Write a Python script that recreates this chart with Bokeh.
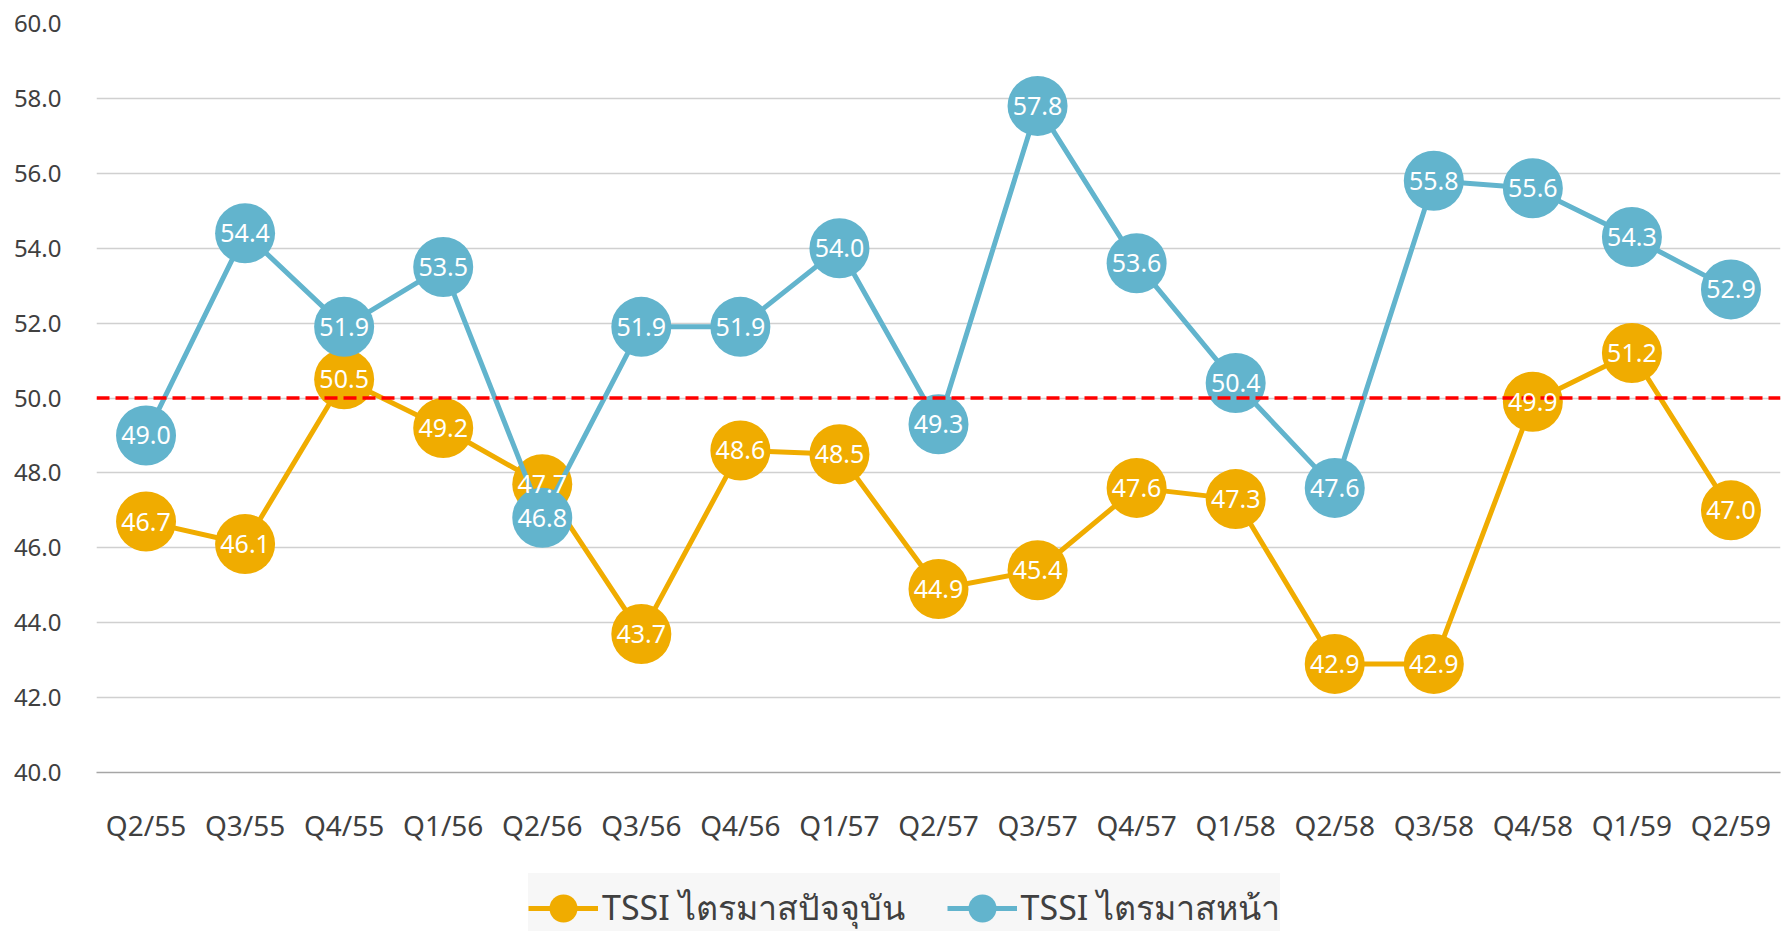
from bokeh.plotting import figure
from bokeh.layouts import column
from bokeh.models import (ColumnDataSource, Range1d, FactorRange, Legend, LegendItem, Span,
                          LabelSet, CustomJSTickFormatter)
from bokeh.core.properties import value
from bokeh.embed import file_html
from bokeh.resources import INLINE

categories = ["Q2/55", "Q3/55", "Q4/55", "Q1/56", "Q2/56", "Q3/56", "Q4/56", "Q1/57", "Q2/57",
              "Q3/57", "Q4/57", "Q1/58", "Q2/58", "Q3/58", "Q4/58", "Q1/59", "Q2/59"]
tssi_current = [46.7, 46.1, 50.5, 49.2, 47.7, 43.7, 48.6, 48.5, 44.9, 45.4, 47.6, 47.3, 42.9, 42.9, 49.9, 51.2, 47.0]
tssi_next = [49.0, 54.4, 51.9, 53.5, 46.8, 51.9, 51.9, 54.0, 49.3, 57.8, 53.6, 50.4, 47.6, 55.8, 55.6, 54.3, 52.9]
series_names = ["TSSI ไตรมาสปัจจุบัน", "TSSI ไตรมาสหน้า"]
threshold = 50.0
y_ticks = [40, 42, 44, 46, 48, 50, 52, 54, 56, 58, 60]

YELLOW = "#F0AC00"
BLUE = "#62B4CD"
FONT = "Noto Sans"

src_cur = ColumnDataSource(dict(x=categories, y=tssi_current, t=[f"{v:.1f}" for v in tssi_current]))
src_next = ColumnDataSource(dict(x=categories, y=tssi_next, t=[f"{v:.1f}" for v in tssi_next]))

x_range = FactorRange(*categories, range_padding=0)
y_range = Range1d(40, 60)

p = figure(frame_width=1684, frame_height=749, x_range=x_range,
           y_range=y_range, output_backend="svg", toolbar_location=None,
           min_border_left=96, min_border_right=5, min_border_top=23, min_border_bottom=97)
p.outline_line_color = None
p.background_fill_color = "white"
p.border_fill_color = "white"

# axes
p.yaxis.ticker = y_ticks
p.yaxis.formatter = CustomJSTickFormatter(code="return tick.toFixed(1);")
p.yaxis.axis_line_color = None
p.yaxis.major_tick_line_color = None
p.yaxis.minor_tick_line_color = None
p.yaxis.major_label_text_font = FONT
p.yaxis.major_label_text_font_size = "24px"
p.yaxis.major_label_text_color = "#404040"
p.yaxis.major_label_standoff = 29

p.xaxis.axis_line_color = "#a6a6a6"
p.xaxis.axis_line_width = 1.5
p.xaxis.major_tick_line_color = None
p.xaxis.major_label_text_font = FONT
p.xaxis.major_label_text_font_size = "28px"
p.xaxis.major_label_text_color = "#404040"
p.xaxis.major_label_standoff = 27

p.xgrid.grid_line_color = None
p.ygrid.grid_line_color = "#d0d0d0"
p.ygrid.grid_line_width = 1.5

# series
l1 = p.line("x", "y", source=src_cur, line_color=YELLOW, line_width=5)
span = Span(location=threshold, dimension="width", line_color="#FF0000", line_width=3.5, line_dash="13 6")
p.add_layout(span)
m1 = p.scatter("x", "y", source=src_cur, size=60, fill_color=YELLOW, line_color=None)
l2 = p.line("x", "y", source=src_next, line_color=BLUE, line_width=5)
m2 = p.scatter("x", "y", source=src_next, size=60, fill_color=BLUE, line_color=None)

for s in (src_cur, src_next):
    p.add_layout(LabelSet(x="x", y="y", text="t", source=s, text_color="white", text_font=value(FONT),
                          text_font_size="25px", text_align="center", text_baseline="middle"))

# legend strip below the chart (same horizontal borders as the chart)
pl = figure(frame_width=1684, frame_height=62, x_range=x_range, y_range=y_range, output_backend="svg",
            toolbar_location=None, min_border_left=96, min_border_right=5,
            min_border_top=0, min_border_bottom=0)
pl.axis.visible = False
pl.grid.visible = False
pl.outline_line_color = None
kl1 = pl.line("x", "y", source=src_cur, line_color=YELLOW, line_width=5, visible=False)
km1 = pl.scatter("x", "y", source=src_cur, fill_color=YELLOW, line_color=None, visible=False)
kl2 = pl.line("x", "y", source=src_next, line_color=BLUE, line_width=5, visible=False)
km2 = pl.scatter("x", "y", source=src_next, fill_color=BLUE, line_color=None, visible=False)

legend = Legend(items=[LegendItem(label=series_names[0], renderers=[kl1, km1]),
                       LegendItem(label=series_names[1], renderers=[kl2, km2])],
                orientation="horizontal", location=(432, -12),
                label_text_font=FONT, label_text_font_size="34px", label_text_color="#404040",
                glyph_width=70, glyph_height=70, spacing=42, padding=0, margin=0,
                background_fill_color="#f7f7f7", background_fill_alpha=1.0, border_line_color=None,
                inactive_fill_alpha=0.0, label_standoff=4, click_policy="none")
pl.add_layout(legend, "center")

open("out.html", "w").write(file_html(column(p, pl, spacing=0), INLINE))
